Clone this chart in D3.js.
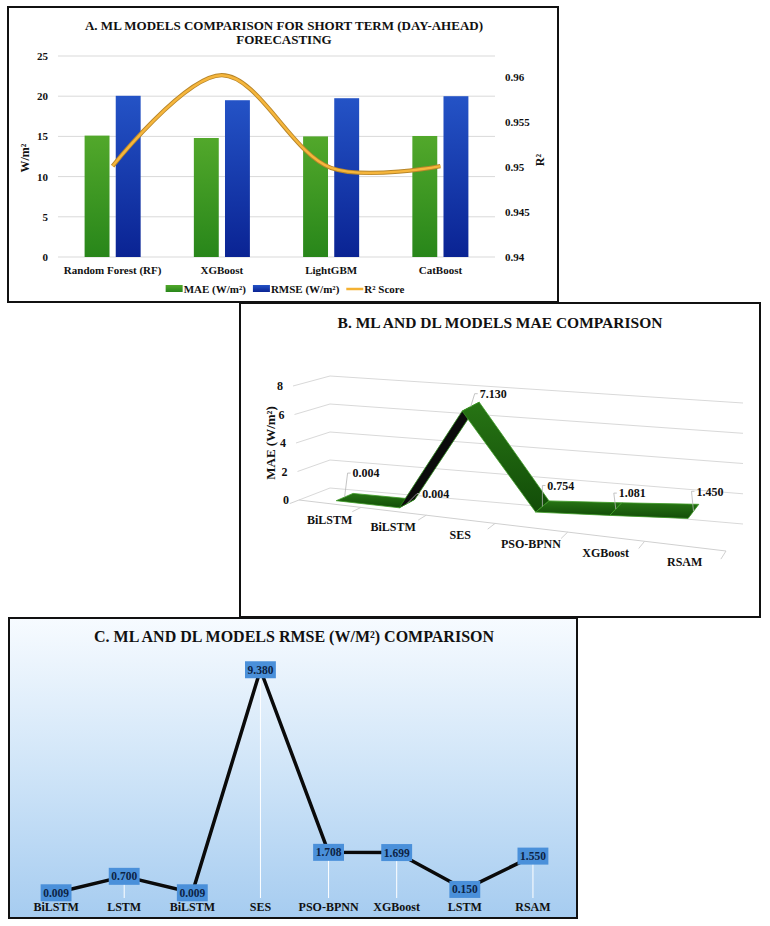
<!DOCTYPE html>
<html>
<head>
<meta charset="utf-8">
<script src="https://cdn.jsdelivr.net/npm/d3@7"></script>
<style>
  body { margin: 0; background: #fff; }
  text { font-family: "Liberation Serif", "Times New Roman", serif; font-weight: bold; fill: #111; }
</style>
</head>
<body>
<svg id="chart" width="770" height="926"></svg>
<script>
// ---- panel A : short term forecasting
const modelsA = ["Random Forest (RF)", "XGBoost", "LightGBM", "CatBoost"];
const maeA = [15.1, 14.8, 15.0, 15.05];
const rmseA = [20.05, 19.5, 19.75, 20.0];
const r2A = [0.9501, 0.9602, 0.9499, 0.9501];
const leftTicksA = [0, 5, 10, 15, 20, 25];
const rightTicksA = [0.94, 0.945, 0.95, 0.955, 0.96];

// ---- panel B : MAE comparison (3d line)
const modelsB = ["BiLSTM", "BiLSTM", "SES", "PSO-BPNN", "XGBoost", "RSAM"];
const maeB = [0.004, 0.004, 7.130, 0.754, 1.081, 1.450];
const ticksB = [0, 2, 4, 6, 8];

// ---- panel C : RMSE comparison
const modelsC = ["BiLSTM", "LSTM", "BiLSTM", "SES", "PSO-BPNN", "XGBoost", "LSTM", "RSAM"];
const rmseC = [0.009, 0.700, 0.009, 9.380, 1.708, 1.699, 0.150, 1.550];

const svg = d3.select("#chart");
const defs = svg.append("defs");

function vgrad(id, stops) {
  const g = defs.append("linearGradient").attr("id", id)
    .attr("x1", 0).attr("y1", 0).attr("x2", 0).attr("y2", 1);
  stops.forEach(s => g.append("stop").attr("offset", s[0]).attr("stop-color", s[1]));
}
vgrad("gGreen", [[0, "#52a82b"], [1, "#28861a"]]);
vgrad("gBlue", [[0, "#2453c6"], [1, "#0a2393"]]);
vgrad("gSky", [[0, "#f7fbff"], [0.5, "#d0e5f8"], [1, "#a6ccf0"]]);
vgrad("gRibbon", [[0, "#277414"], [1, "#124d08"]]);

/* ================= A ================= */
const gA = svg.append("g");
gA.append("rect").attr("x", 8).attr("y", 7).attr("width", 550).attr("height", 295)
  .attr("fill", "#fff").attr("stroke", "#111").attr("stroke-width", 2);

gA.append("text").attr("x", 284).attr("y", 30).attr("text-anchor", "middle")
  .style("font-size", "13px").text("A. ML MODELS COMPARISON FOR SHORT TERM (DAY-AHEAD)");
gA.append("text").attr("x", 284).attr("y", 44).attr("text-anchor", "middle")
  .style("font-size", "13px").text("FORECASTING");

const x0 = d3.scaleBand().domain(modelsA).range([58, 495]).paddingInner(0.487).paddingOuter(0.2435);
const x1 = d3.scaleBand().domain(["mae", "rmse"]).range([0, x0.bandwidth()]).paddingInner(0.2);
const yL = d3.scaleLinear().domain([0, 25]).range([257, 56]);
const yR = d3.scaleLinear().domain([0.94, 0.96]).range([257, 77]);

gA.append("g").selectAll("line").data(leftTicksA).join("line")
  .attr("x1", 58).attr("x2", 495).attr("y1", d => yL(d)).attr("y2", d => yL(d))
  .attr("stroke", "#d9d9d9").attr("stroke-width", 1);

const axL = gA.append("g").attr("transform", "translate(58,0)")
  .call(d3.axisLeft(yL).tickValues(leftTicksA).tickSize(0).tickPadding(10));
const axR = gA.append("g").attr("transform", "translate(495,0)")
  .call(d3.axisRight(yR).tickValues(rightTicksA).tickSize(0).tickPadding(10).tickFormat(d3.format("")));
const axB = gA.append("g").attr("transform", "translate(0,257)")
  .call(d3.axisBottom(x0).tickSize(0).tickPadding(9));
[axL, axR, axB].forEach(a => {
  a.select(".domain").remove();
  a.selectAll("text").style("font-size", "11px").style("font-family", "Liberation Serif").attr("fill", "#111");
});

const groups = gA.append("g").selectAll("g").data(modelsA).join("g")
  .attr("transform", d => "translate(" + x0(d) + ",0)");
groups.append("rect").attr("x", x1("mae")).attr("width", x1.bandwidth())
  .attr("y", (d, i) => yL(maeA[i])).attr("height", (d, i) => yL(0) - yL(maeA[i]))
  .attr("fill", "url(#gGreen)");
groups.append("rect").attr("x", x1("rmse")).attr("width", x1.bandwidth())
  .attr("y", (d, i) => yL(rmseA[i])).attr("height", (d, i) => yL(0) - yL(rmseA[i]))
  .attr("fill", "url(#gBlue)");

const r2line = d3.line()
  .x((d, i) => x0(modelsA[i]) + x0.bandwidth() / 2)
  .y(d => yR(d))
  .curve(d3.curveCatmullRom.alpha(0.5));
gA.append("path").attr("d", r2line(r2A)).attr("fill", "none")
  .attr("stroke", "#b8862a").attr("stroke-width", 4.2);
gA.append("path").attr("d", r2line(r2A)).attr("fill", "none")
  .attr("stroke", "#f6b63c").attr("stroke-width", 2.4);

gA.append("text").attr("transform", "translate(29,158) rotate(-90)").attr("text-anchor", "middle")
  .style("font-size", "12px").text("W/m²");
gA.append("text").attr("transform", "translate(544,160) rotate(-90)").attr("text-anchor", "middle")
  .style("font-size", "12px").text("R²");

// legend
const legItems = [
  { label: "MAE (W/m²)", kind: "rect", color: "url(#gGreen)" },
  { label: "RMSE (W/m²)", kind: "rect", color: "url(#gBlue)" },
  { label: "R² Score", kind: "line", color: "#f4b132" }
];
const leg = gA.append("g");
let lx = 0;
legItems.forEach(it => {
  if (it.kind === "rect") {
    leg.append("rect").attr("x", lx).attr("y", -4).attr("width", 17).attr("height", 7).attr("fill", it.color);
  } else {
    leg.append("line").attr("x1", lx).attr("x2", lx + 17).attr("y1", 0).attr("y2", 0)
      .attr("stroke", it.color).attr("stroke-width", 2.5);
  }
  const t = leg.append("text").attr("x", lx + 18).attr("y", 4).style("font-size", "11px").text(it.label);
  lx += 18 + t.node().getComputedTextLength() + 7;
});
leg.attr("transform", "translate(" + (285 - (lx - 7) / 2) + ",289)");

/* ================= B ================= */
const gB = svg.append("g");
gB.append("rect").attr("x", 240).attr("y", 303).attr("width", 520).attr("height", 314)
  .attr("fill", "#fff").attr("stroke", "#111").attr("stroke-width", 2);
gB.append("text").attr("x", 500).attr("y", 328).attr("text-anchor", "middle")
  .style("font-size", "15.5px").text("B. ML AND DL MODELS MAE COMPARISON");

// box of the 3d plot: front/back, bottom/top, left/right corners on screen
const boxB = {
  fbl: [299, 500], fbr: [726, 551], bbl: [330, 488], bbr: [743, 524],
  ftl: [293, 386], ftr: [722, 428], btl: [330, 376], btr: [743, 403]
};
const warpB = 1.178;       // perspective along categories
const uB = d3.scaleLinear().domain([0, modelsB.length]).range([0, 1]);
const vB = d3.scaleLinear().domain([0, 8]).range([0, 1]);
const lerp = (a, b, s) => [a[0] + (b[0] - a[0]) * s, a[1] + (b[1] - a[1]) * s];
function proj(u, v, w) {
  const t = u / (u + warpB * (1 - u));
  const bf = lerp(boxB.fbl, boxB.fbr, t), bb = lerp(boxB.bbl, boxB.bbr, t);
  const tf = lerp(boxB.ftl, boxB.ftr, t), tb = lerp(boxB.btl, boxB.btr, t);
  return lerp(lerp(bf, bb, w), lerp(tf, tb, w), v);
}
const pt = p => p[0].toFixed(1) + "," + p[1].toFixed(1);

// walls gridlines
gB.append("g").selectAll("path").data(ticksB).join("path")
  .attr("d", d => "M" + pt(proj(0, vB(d), 0)) + "L" + pt(proj(0, vB(d), 1)) + "L" + pt(proj(1, vB(d), 1)))
  .attr("fill", "none").attr("stroke", "#d9d9d9").attr("stroke-width", 1);
// category axis on the floor front edge
gB.append("path").attr("d", "M" + pt(proj(0, 0, 0)) + "L" + pt(proj(1, 0, 0)))
  .attr("stroke", "#d0d0d0").attr("stroke-width", 1);
gB.append("g").selectAll("path").data(d3.range(modelsB.length + 1)).join("path")
  .attr("d", d => "M" + pt(proj(uB(d), 0, 0)) + "L" + pt(proj(uB(d), 0, -0.3)))
  .attr("stroke", "#d0d0d0").attr("stroke-width", 1);

gB.append("g").selectAll("text").data(ticksB).join("text")
  .attr("x", d => proj(0, vB(d), 0)[0] - 10).attr("y", d => proj(0, vB(d), 0)[1])
  .attr("dy", "0.35em").attr("text-anchor", "end").style("font-size", "12px").text(d => d);
gB.append("text").attr("transform", "translate(275,443) rotate(-90)").attr("text-anchor", "middle")
  .style("font-size", "13px").text("MAE (W/m²)");

gB.append("g").selectAll("text").data(modelsB).join("text")
  .attr("x", (d, i) => proj(uB(i + 0.5), 0, 0)[0])
  .attr("y", (d, i) => proj(uB(i + 0.5), 0, 0)[1] + 20)
  .attr("text-anchor", "middle").style("font-size", "12px").text(d => d);

// ribbon
const w0 = 0.22, w1 = 0.78;
const P = (i, w) => proj(uB(i + 0.5), vB(maeB[i]), w);
const segs = d3.range(maeB.length - 1).map(i => {
  const q = [P(i, w0), P(i + 1, w0), P(i + 1, w1), P(i, w1)];
  const ab = [q[1][0] - q[0][0], q[1][1] - q[0][1]], bc = [q[2][0] - q[1][0], q[2][1] - q[1][1]];
  return { q: q, under: ab[0] * bc[1] - ab[1] * bc[0] > 0 };
});
gB.append("g").selectAll("path").data(segs).join("path")
  .attr("d", d => "M" + d.q.map(pt).join("L") + "Z")
  .attr("fill", d => d.under ? "#0b0b0b" : "url(#gRibbon)")
  .attr("stroke", d => d.under ? "#2f8a1c" : "#3c9a24").attr("stroke-width", 0.8)
  .attr("stroke-linejoin", "round");

// data labels with leaders
const labelOffB = [[3, -24], [10, -10], [4, -13], [0, -21], [-2, -16], [-2, -20]];
const labs = gB.append("g").selectAll("g").data(maeB).join("g");
labs.append("path").attr("d", (d, i) => {
  const p = proj(uB(i + 0.5), vB(d), 0.5), o = labelOffB[i];
  return "M" + pt(p) + "L" + pt([p[0] + o[0], p[1] + o[1]]) + "L" + pt([p[0] + o[0] + 3, p[1] + o[1]]);
}).attr("fill", "none").attr("stroke", "#b5b5b5").attr("stroke-width", 0.8);
labs.append("text")
  .attr("x", (d, i) => proj(uB(i + 0.5), vB(d), 0.5)[0] + labelOffB[i][0] + 5)
  .attr("y", (d, i) => proj(uB(i + 0.5), vB(d), 0.5)[1] + labelOffB[i][1])
  .attr("dy", "0.35em").style("font-size", "12px").text(d => d3.format(".3f")(d));

/* ================= C ================= */
const gC = svg.append("g");
gC.append("rect").attr("x", 9).attr("y", 618).attr("width", 568).attr("height", 300)
  .attr("fill", "url(#gSky)").attr("stroke", "#111").attr("stroke-width", 2);
gC.append("text").attr("x", 294).attr("y", 642).attr("text-anchor", "middle")
  .style("font-size", "16px").text("C. ML AND DL MODELS RMSE (W/M²) COMPARISON");

const xC = d3.scalePoint().domain(d3.range(modelsC.length)).range([22, 567]).padding(0.5);
const yC = d3.scaleLinear().domain([0, 10]).range([893, 655]);

gC.append("g").selectAll("line").data(rmseC).join("line")
  .attr("x1", (d, i) => xC(i)).attr("x2", (d, i) => xC(i))
  .attr("y1", d => yC(d)).attr("y2", 898)
  .attr("stroke", "#ffffff").attr("stroke-width", 1);

gC.append("path").datum(rmseC)
  .attr("d", d3.line().x((d, i) => xC(i)).y(d => yC(d)))
  .attr("fill", "none").attr("stroke", "#0a0a0a").attr("stroke-width", 3.5)
  .attr("stroke-linejoin", "round");

const labC = gC.append("g").selectAll("g").data(rmseC).join("g")
  .attr("transform", (d, i) => "translate(" + xC(i) + "," + yC(d) + ")");
labC.append("rect").attr("fill", "#4a90da");
labC.append("text").attr("text-anchor", "middle").attr("dy", "0.35em")
  .style("font-size", "11.5px").style("fill", "#0d2344")
  .text(d => d3.format(".3f")(d));
labC.each(function () {
  const g = d3.select(this);
  const w = g.select("text").node().getComputedTextLength() + 5;
  g.select("rect").attr("x", -w / 2).attr("y", -8.5).attr("width", w).attr("height", 17);
});

gC.append("g").selectAll("text").data(modelsC).join("text")
  .attr("x", (d, i) => xC(i)).attr("y", 911).attr("text-anchor", "middle")
  .style("font-size", "12px").text(d => d);
</script>
</body>
</html>
